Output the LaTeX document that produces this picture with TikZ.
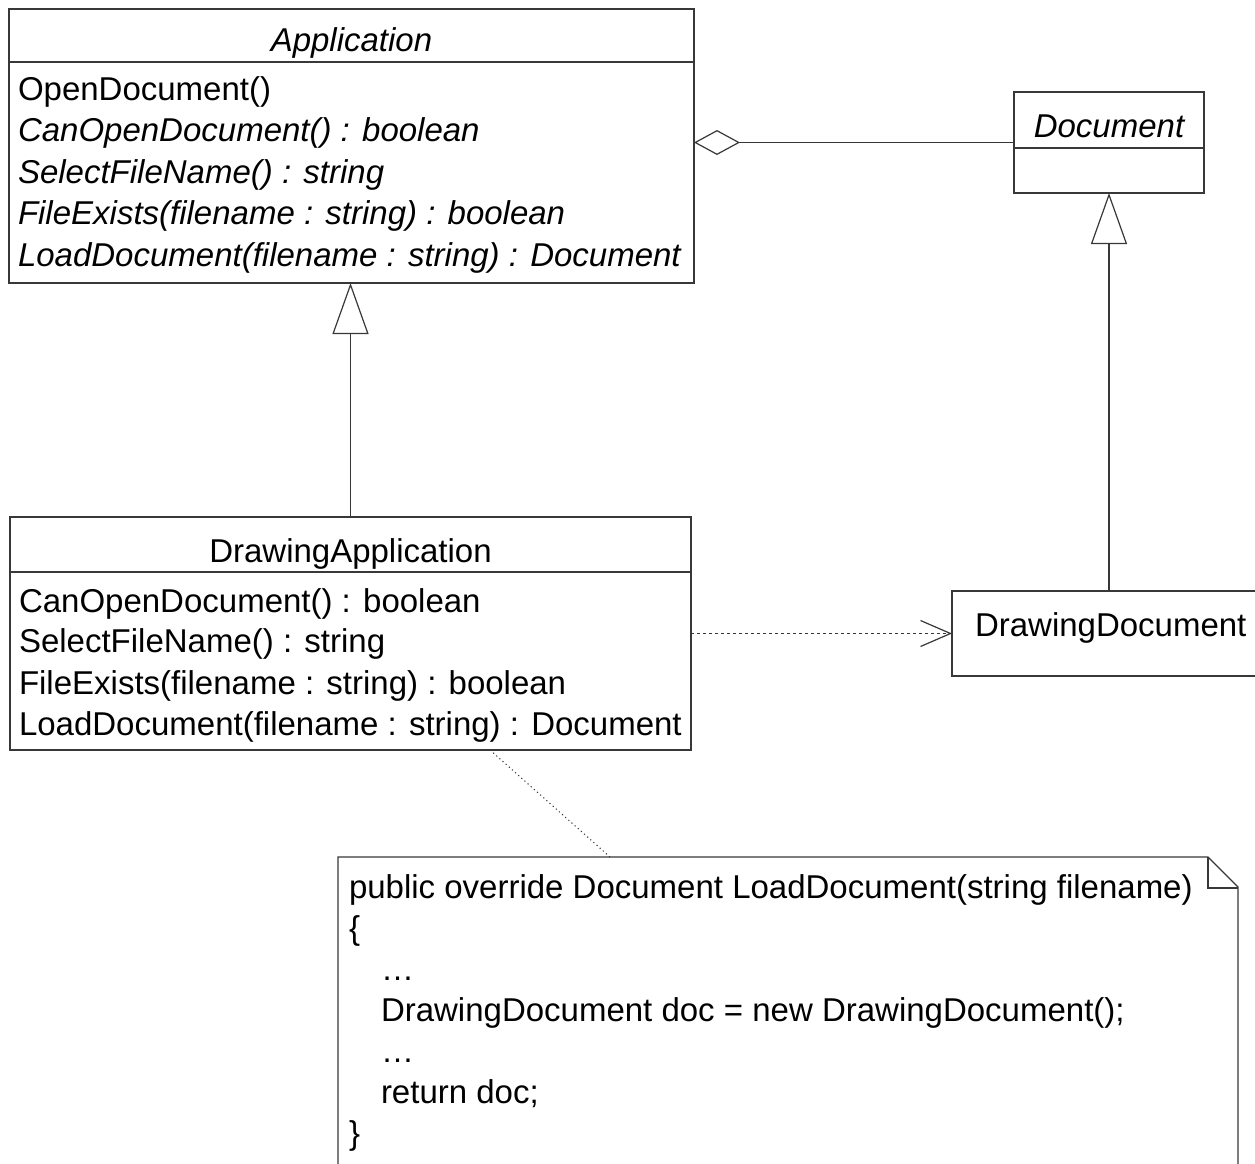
\documentclass[tikz,border=0pt]{standalone}
\usepackage{fontspec}
\setmainfont{Liberation Sans}
\usetikzlibrary{arrows.meta}
\definecolor{linegray}{gray}{0.22}
\begin{document}
\begin{tikzpicture}[x=1pt,y=-1pt,line width=1.2pt,draw=linegray,
  every node/.style={inner sep=0pt,outer sep=0pt},
  umlbox/.style={draw=linegray,fill=white,anchor=north west},
  txt/.style={anchor=base west,font=\fontsize{33}{40}\selectfont},
  itxt/.style={anchor=base west,font=\fontsize{33}{40}\selectfont\itshape},
  ttl/.style={anchor=base,font=\fontsize{33}{40}\selectfont},
  ittl/.style={anchor=base,font=\fontsize{33}{40}\selectfont\itshape},
  aggr/.style={{Diamond[open,length=46pt,width=25pt,fill=white]}-},
  gen/.style={-{Triangle[open,length=51pt,width=36pt,fill=white]}},
  dep/.style={dash pattern=on 3pt off 3pt,-{Straight Barb[length=30pt,width=26pt]}},
  notelink/.style={dash pattern=on 1.2pt off 3pt,line width=1pt}]
\useasboundingbox[fill=white] (0,0) rectangle (1255,1164);

% Application (abstract class)
\node[umlbox,minimum width=685pt,minimum height=274pt] (app) at (9,9) {};
\draw (app.west |- 0,62) -- (app.east |- 0,62);
\node[ittl] (appname) at (app.north |- 0,52) {Application};
\node[txt]  (a1) at (18,100)   {OpenDocument()};
\node[itxt] (a2) at (18,141.5) {CanOpenDocument() : boolean};
\node[itxt] (a3) at (18,183)   {SelectFileName() : string};
\node[itxt] (a4) at (18,224.5) {FileExists(filename : string) : boolean};
\node[itxt] (a5) at (18,266)   {LoadDocument(filename : string) : Document};

% Document (abstract class)
\node[umlbox,minimum width=190pt,minimum height=101pt] (doc) at (1014,92) {};
\draw (doc.west |- 0,148) -- (doc.east |- 0,148);
\node[ittl] (docname) at (doc.north |- 0,137) {Document};

% DrawingApplication
\node[umlbox,minimum width=681pt,minimum height=233pt] (dapp) at (10,517) {};
\draw (dapp.west |- 0,572) -- (dapp.east |- 0,572);
\node[ttl] (dappname) at (dapp.north |- 0,562) {DrawingApplication};
\node[txt] (d1) at (19,612) {CanOpenDocument() : boolean};
\node[txt] (d2) at (19,652) {SelectFileName() : string};
\node[txt] (d3) at (19,694) {FileExists(filename : string) : boolean};
\node[txt] (d4) at (19,735) {LoadDocument(filename : string) : Document};

% DrawingDocument
\node[umlbox,minimum width=310pt,minimum height=85pt] (ddoc) at (952,591) {};
\node[txt] (ddocname) at (975,636) {DrawingDocument};

% Note with folded corner
\node[anchor=north west,minimum width=900pt,minimum height=320pt] (note) at (338,857) {};
\draw[fill=white] (note.south west) -- (note.north west) -- ([xshift=-30pt]note.north east)
  -- ([yshift=-30pt]note.north east) -- (note.south east);
\draw ([xshift=-30pt]note.north east) -- ([xshift=-30pt,yshift=-31pt]note.north east)
  -- ([yshift=-31pt]note.north east);
\node[txt] (n1) at (349,898)  {public override Document LoadDocument(string filename)};
\node[txt] (n2) at (349,939)  {\{};
\node[txt] (n3) at (381,980)  {…};
\node[txt] (n4) at (381,1021) {DrawingDocument doc = new DrawingDocument();};
\node[txt] (n5) at (381,1062) {…};
\node[txt] (n6) at (381,1103) {return doc;};
\node[txt] (n7) at (349,1144) {\}};

% Relations
\draw[aggr] (doc.west -| app.east) -- (doc.west);
\draw[gen] (dapp.north) -- (dapp.north |- app.south);
\draw[gen] (doc.south |- ddoc.north) -- (doc.south);
\draw[dep] (ddoc.west -| dapp.east) -- (ddoc.west);
\draw[notelink] ([xshift=480pt]dapp.south west) -- ([xshift=272pt]note.north west);
\end{tikzpicture}
\end{document}
